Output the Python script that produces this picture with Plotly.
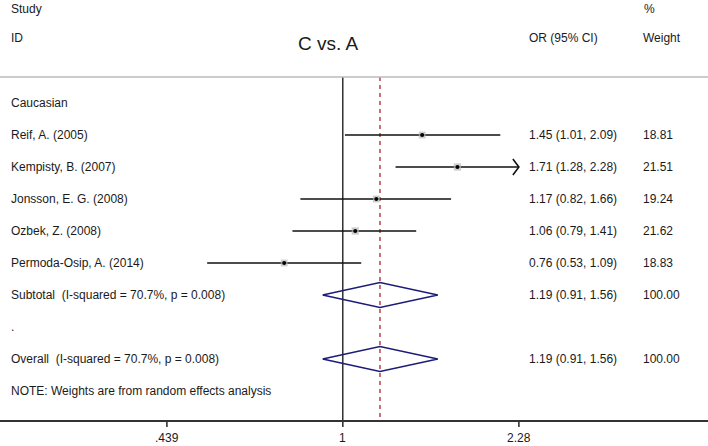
import math
import plotly.graph_objects as go

# ---- data ----
group_label = "Caucasian"
studies = ["Reif, A. (2005)", "Kempisty, B. (2007)", "Jonsson, E. G. (2008)",
           "Ozbek, Z. (2008)", "Permoda-Osip, A. (2014)"]
or_est = [1.45, 1.71, 1.17, 1.06, 0.76]
ci_low = [1.01, 1.28, 0.82, 0.79, 0.53]
ci_high = [2.09, 2.28, 1.66, 1.41, 1.09]
arrow_right = [False, True, False, False, False]
weights = ["18.81", "21.51", "19.24", "21.62", "18.83"]
weight_num = [18.81, 21.51, 19.24, 21.62, 18.83]

subtotal_label = "Subtotal  (I-squared = 70.7%, p = 0.008)"
overall_label = "Overall  (I-squared = 70.7%, p = 0.008)"
pooled_est = 1.19
pooled_low = 0.91
pooled_high = 1.56
pooled_weight = "100.00"
note_text = "NOTE: Weights are from random effects analysis"
title_text = "C vs. A"
tick_vals = [0.439, 1, 2.28]
tick_text = [".439", "1", "2.28"]

# ---- layout constants ----
W, H = 708, 446
FONT = "Liberation Sans, Arial, sans-serif"
TXT = "#1a1a1a"
NAVY = "#1c1c78"
AXC = "#333333"
ROW0_PX = 103.0   # pixel y of row 0
ROW_PX = 32.0     # pixel per row
AXIS_PX = 421.0

def px_to_row(py):
    return (py - ROW0_PX) / ROW_PX

row_group = 0
row_studies = list(range(1, 1 + len(studies)))
row_sub = row_studies[-1] + 1
row_dot = row_sub + 1
row_overall = row_dot + 1
row_note = row_overall + 1

x_left = (0 - 342.8) / 213.65 / math.log(10)
x_right = (W - 342.8) / 213.65 / math.log(10)

fig = go.Figure()

top_row = px_to_row(77)
axis_row = px_to_row(AXIS_PX)

# reference lines
fig.add_trace(go.Scatter(x=[1, 1], y=[top_row, axis_row], mode="lines",
                         line=dict(color="#111111", width=1.3), hoverinfo="skip",
                         showlegend=False))
fig.add_trace(go.Scatter(x=[pooled_est, pooled_est], y=[top_row, axis_row], mode="lines",
                         line=dict(color="#a52a2a", width=1.3, dash="4px,4px"),
                         hoverinfo="skip", showlegend=False))

# CI lines
for i, r in enumerate(row_studies):
    fig.add_trace(go.Scatter(x=[ci_low[i], ci_high[i]], y=[r, r], mode="lines",
                             line=dict(color="#111111", width=1.6),
                             hoverinfo="skip", showlegend=False))
    if arrow_right[i]:
        k = math.exp(-6 / 213.65)
        fig.add_trace(go.Scatter(x=[ci_high[i] * k, ci_high[i], ci_high[i] * k],
                                 y=[r - 0.25, r, r + 0.25], mode="lines",
                                 line=dict(color="#111111", width=1.6),
                                 hoverinfo="skip", showlegend=False))

# squares + dots
fig.add_trace(go.Scatter(x=or_est, y=row_studies, mode="markers",
                         marker=dict(symbol="square", color="#b8b8b8",
                                     size=[7 * math.sqrt(w / 20) for w in weight_num],
                                     line=dict(width=0)),
                         hoverinfo="skip", showlegend=False))
fig.add_trace(go.Scatter(x=or_est, y=row_studies, mode="markers",
                         marker=dict(symbol="circle", color="#000000", size=4),
                         hoverinfo="skip", showlegend=False))

# diamonds
h = 12.5 / ROW_PX
for r in (row_sub, row_overall):
    fig.add_trace(go.Scatter(x=[pooled_low, pooled_est, pooled_high, pooled_est, pooled_low],
                             y=[r, r - h, r, r + h, r], mode="lines",
                             line=dict(color=NAVY, width=1.6),
                             hoverinfo="skip", showlegend=False))

ann = []
def text(xpx, row, s, size=12, xanchor="left"):
    ann.append(dict(x=xpx / W, xref="paper", y=row, yref="y", text=s,
                    showarrow=False, xanchor=xanchor, yanchor="middle",
                    font=dict(family=FONT, size=size, color=TXT)))

# headers
text(9, px_to_row(9), "Study")
text(642, px_to_row(9), "%")
text(9, px_to_row(38), "ID")
text(527, px_to_row(38), "OR (95% CI)")
text(641, px_to_row(38), "Weight")
text(328, px_to_row(43), title_text, size=19, xanchor="center")

text(9, row_group, group_label)
for i, r in enumerate(row_studies):
    text(9, r, studies[i])
    text(527, r, f"{or_est[i]:.2f} ({ci_low[i]:.2f}, {ci_high[i]:.2f})")
    text(641, r, weights[i])
pooled_txt = f"{pooled_est:.2f} ({pooled_low:.2f}, {pooled_high:.2f})"
text(9, row_sub, subtotal_label)
text(527, row_sub, pooled_txt)
text(641, row_sub, pooled_weight)
text(9, row_dot, ".")
text(9, row_overall, overall_label)
text(527, row_overall, pooled_txt)
text(641, row_overall, pooled_weight)
text(9, row_note, note_text)

# tick labels
for tv, tt in zip(tick_vals, tick_text):
    ann.append(dict(x=math.log10(tv), xref="x", y=px_to_row(438), yref="y", text=tt,
                    showarrow=False, xanchor="center", yanchor="middle",
                    font=dict(family=FONT, size=12, color=TXT)))

# axis line and ticks as shapes, above everything
shapes = [dict(type="line", xref="paper", yref="y", x0=0, x1=1,
               y0=top_row, y1=top_row, line=dict(color="#bbbbbb", width=1.3)),
          dict(type="line", xref="paper", yref="y", x0=0, x1=1,
               y0=axis_row, y1=axis_row, layer="above",
               line=dict(color=AXC, width=2.2))]
for tv in tick_vals:
    shapes.append(dict(type="line", xref="x", yref="y", x0=tv, x1=tv,
                       y0=axis_row, y1=axis_row + 6 / ROW_PX, layer="above",
                       line=dict(color=AXC, width=1.6)))

fig.update_layout(
    width=W, height=H,
    margin=dict(l=0, r=0, t=0, b=0),
    paper_bgcolor="white", plot_bgcolor="white",
    showlegend=False,
    annotations=ann,
    shapes=shapes,
    xaxis=dict(type="log", range=[x_left, x_right], visible=False, fixedrange=True),
    yaxis=dict(range=[px_to_row(H), px_to_row(0)], visible=False, fixedrange=True),
)

fig.write_html("out.html", config={"displayModeBar": False},
               post_script="document.body.style.margin='0px';document.body.style.overflow='hidden';")
